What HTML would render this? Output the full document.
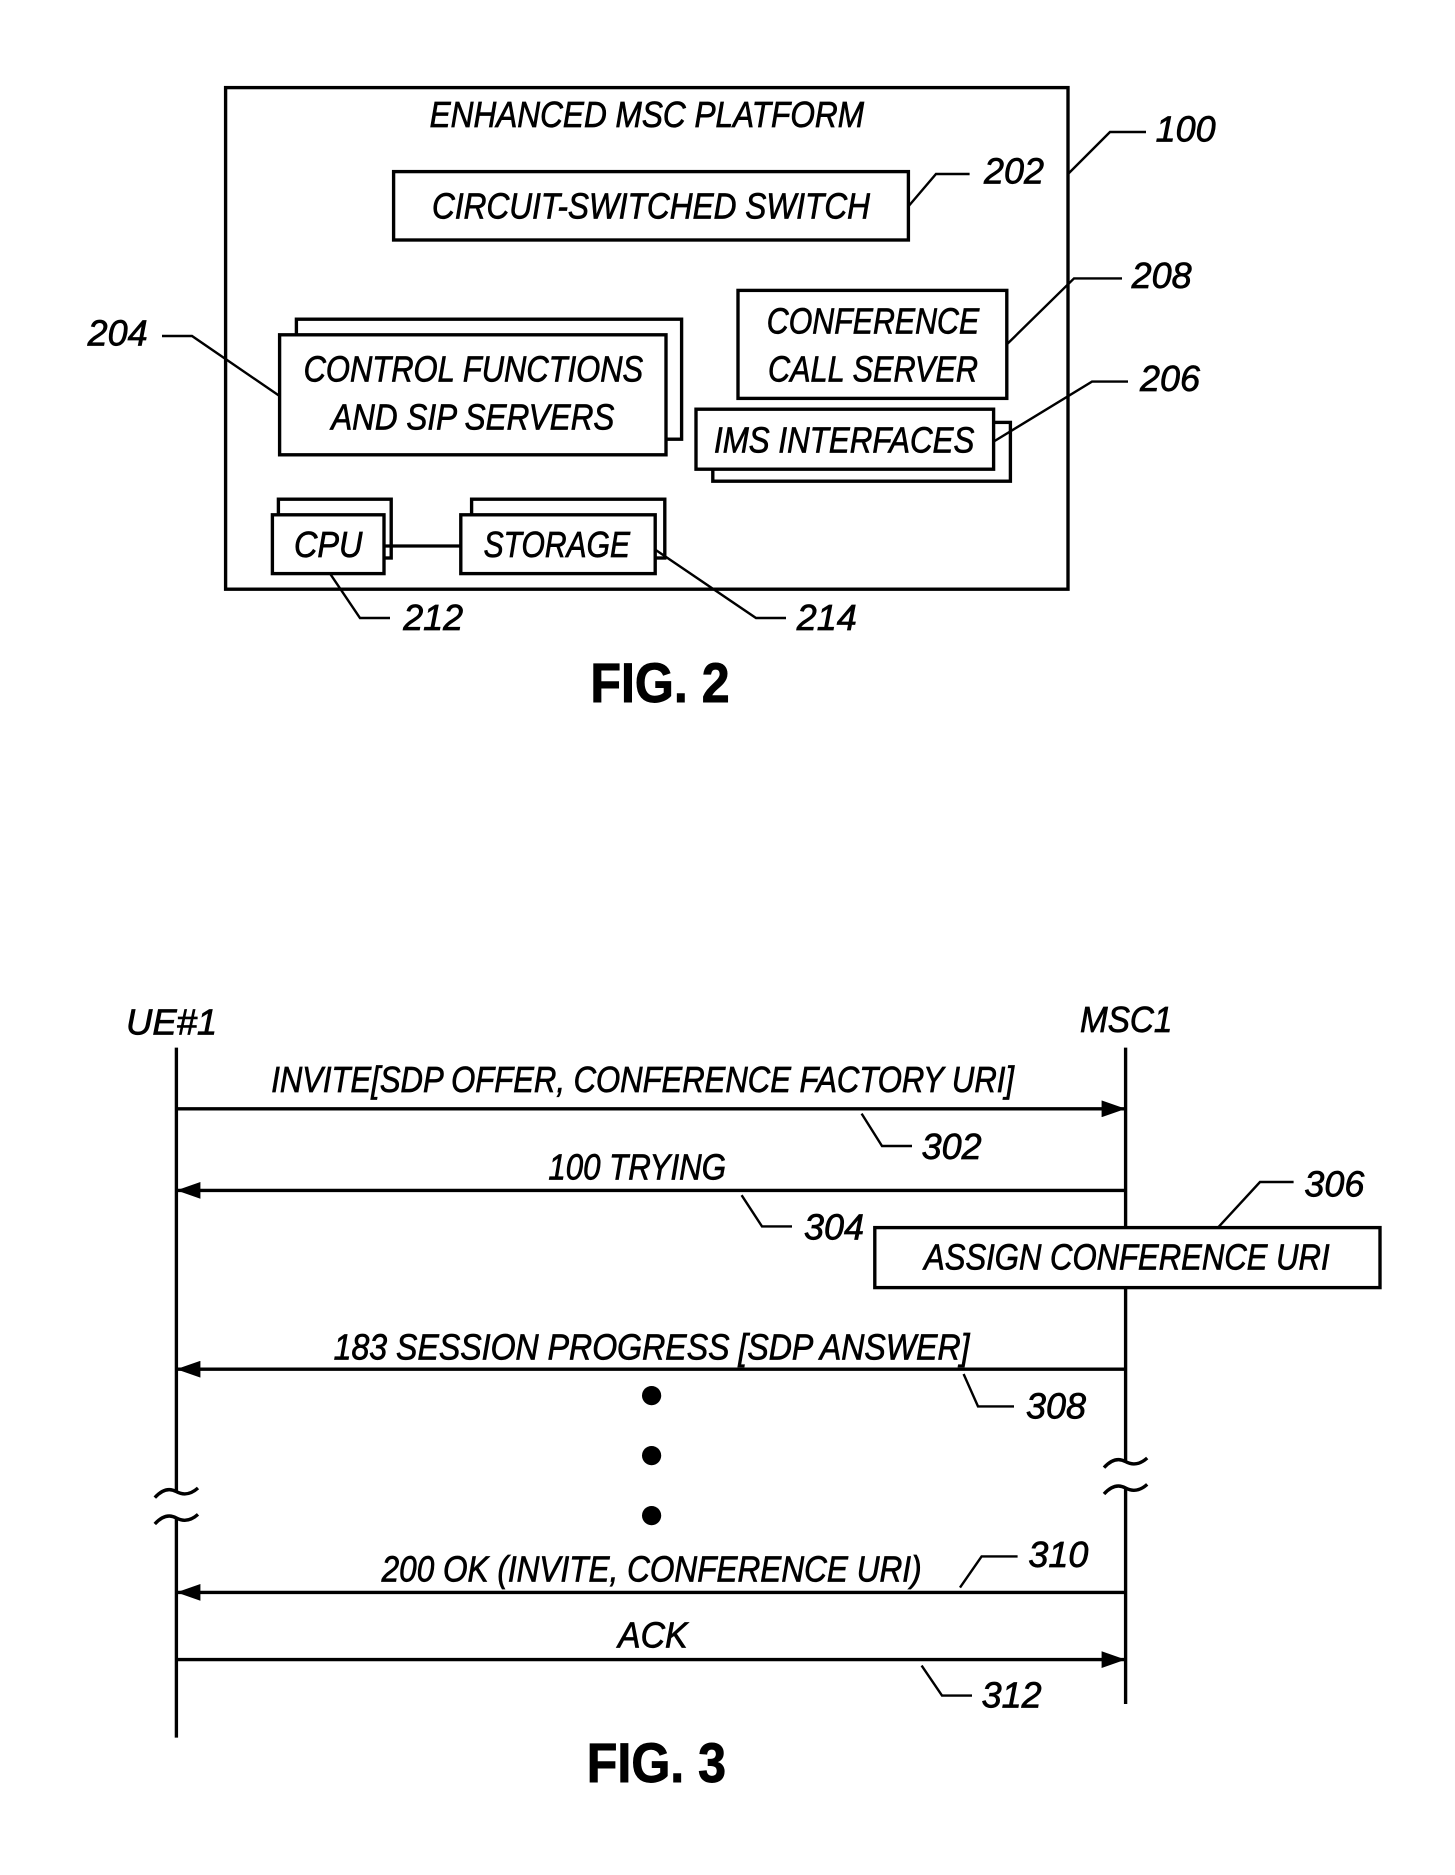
<!DOCTYPE html>
<html><head><meta charset="utf-8"><style>
html,body{margin:0;padding:0;background:#fff;}
svg{display:block;}
text{font-family:"Liberation Sans Narrow","Liberation Sans",sans-serif;font-style:italic;fill:#000;stroke:#000;stroke-width:0.6;}
.b{font-style:normal;font-weight:bold;font-family:"Liberation Sans",sans-serif;stroke-width:0.8;}
</style></head><body>
<svg width="1455" height="1875" viewBox="0 0 1212.5 1562.5" xmlns="http://www.w3.org/2000/svg">
<defs><marker id="ah" markerWidth="20" markerHeight="14" refX="20" refY="7" orient="auto" markerUnits="userSpaceOnUse"><path d="M0,0 L20,7 L0,14 Z" fill="#000"/></marker></defs>
<g fill="#fff" stroke="#000" stroke-width="2.8">
<rect x="188" y="73" width="702" height="418"/>
<rect x="328" y="143" width="429" height="57"/>
<rect x="247" y="266" width="321" height="100"/>
<rect x="233" y="279" width="322" height="100"/>
<rect x="615" y="242" width="224" height="90"/>
<rect x="594" y="352" width="248" height="49"/>
<rect x="580" y="341" width="248" height="50"/>
<rect x="232" y="416" width="94" height="49"/>
<rect x="227" y="429" width="93" height="49"/>
<rect x="393" y="416" width="161" height="49"/>
<rect x="384" y="429" width="162" height="49"/>
</g>
<g fill="none" stroke="#000" stroke-width="2">
<line x1="320" y1="455" x2="384" y2="455" stroke-width="2.8"/>
<polyline points="757,172 780,145 808,145"/>
<polyline points="890,145 925,110 955,110"/>
<polyline points="135,280 160,280 233,330"/>
<polyline points="839,287 895,232 935,232"/>
<polyline points="828,368 910,318 940,318"/>
<polyline points="275,478 300,515 325,515"/>
<polyline points="546,458 630,515 655,515"/>
<polyline points="718,928 735,955 760,955"/>
<polyline points="618,996 635,1022 660,1022"/>
<polyline points="1015,1023 1050,985 1078,985"/>
<polyline points="803,1145 815,1172 845,1172"/>
<polyline points="800,1323 818,1297 848,1297"/>
<polyline points="768,1388 785,1413 810,1413"/>
</g>
<g fill="none" stroke="#000" stroke-width="2.8">
<line x1="147" y1="873" x2="147" y2="1243"/>
<line x1="147" y1="1265" x2="147" y2="1448"/>
<line x1="938" y1="873" x2="938" y2="1218"/>
<line x1="938" y1="1240" x2="938" y2="1420"/>
<path d="M129,1248 Q138,1238 147,1243 Q156,1248 165,1240"/>
<path d="M129,1270 Q138,1260 147,1265 Q156,1270 165,1262"/>
<path d="M920,1223 Q929,1213 938,1218 Q947,1223 956,1215"/>
<path d="M920,1245 Q929,1235 938,1240 Q947,1245 956,1237"/>
<line x1="147" y1="924" x2="938" y2="924" marker-end="url(#ah)"/>
<line x1="938" y1="992" x2="147" y2="992" marker-end="url(#ah)"/>
<line x1="938" y1="1141" x2="147" y2="1141" marker-end="url(#ah)"/>
<line x1="938" y1="1327" x2="147" y2="1327" marker-end="url(#ah)"/>
<line x1="147" y1="1383" x2="938" y2="1383" marker-end="url(#ah)"/>
</g>
<rect x="729" y="1023" width="421" height="50" fill="#fff" stroke="#000" stroke-width="2.8"/>
<circle cx="543" cy="1163" r="8"/><circle cx="543" cy="1213" r="8"/><circle cx="543" cy="1263" r="8"/>
<g font-size="30">
<text x="358" y="106" textLength="362" lengthAdjust="spacingAndGlyphs">ENHANCED MSC PLATFORM</text>
<text x="360" y="182" textLength="365" lengthAdjust="spacingAndGlyphs">CIRCUIT-SWITCHED SWITCH</text>
<text x="820" y="153" textLength="50" lengthAdjust="spacingAndGlyphs">202</text>
<text x="963" y="118" textLength="50" lengthAdjust="spacingAndGlyphs">100</text>
<text x="253" y="318" textLength="283" lengthAdjust="spacingAndGlyphs">CONTROL FUNCTIONS</text>
<text x="276" y="358" textLength="236" lengthAdjust="spacingAndGlyphs">AND SIP SERVERS</text>
<text x="73" y="288" textLength="50" lengthAdjust="spacingAndGlyphs">204</text>
<text x="639" y="278" textLength="177" lengthAdjust="spacingAndGlyphs">CONFERENCE</text>
<text x="640" y="318" textLength="175" lengthAdjust="spacingAndGlyphs">CALL SERVER</text>
<text x="943" y="240" textLength="50" lengthAdjust="spacingAndGlyphs">208</text>
<text x="595" y="377" textLength="217" lengthAdjust="spacingAndGlyphs">IMS INTERFACES</text>
<text x="950" y="326" textLength="50" lengthAdjust="spacingAndGlyphs">206</text>
<text x="245" y="464" textLength="57" lengthAdjust="spacingAndGlyphs">CPU</text>
<text x="403" y="464" textLength="122" lengthAdjust="spacingAndGlyphs">STORAGE</text>
<text x="336" y="525" textLength="50" lengthAdjust="spacingAndGlyphs">212</text>
<text x="664" y="525" textLength="50" lengthAdjust="spacingAndGlyphs">214</text>
<text x="105" y="862" textLength="76" lengthAdjust="spacingAndGlyphs">UE#1</text>
<text x="900" y="860" textLength="77" lengthAdjust="spacingAndGlyphs">MSC1</text>
<text x="226" y="910" textLength="619" lengthAdjust="spacingAndGlyphs">INVITE[SDP OFFER, CONFERENCE FACTORY URI]</text>
<text x="768" y="966" textLength="50" lengthAdjust="spacingAndGlyphs">302</text>
<text x="457" y="983" textLength="148" lengthAdjust="spacingAndGlyphs">100 TRYING</text>
<text x="670" y="1033" textLength="50" lengthAdjust="spacingAndGlyphs">304</text>
<text x="770" y="1058" textLength="338" lengthAdjust="spacingAndGlyphs">ASSIGN CONFERENCE URI</text>
<text x="1087" y="997" textLength="50" lengthAdjust="spacingAndGlyphs">306</text>
<text x="278" y="1133" textLength="530" lengthAdjust="spacingAndGlyphs">183 SESSION PROGRESS [SDP ANSWER]</text>
<text x="855" y="1182" textLength="50" lengthAdjust="spacingAndGlyphs">308</text>
<text x="318" y="1318" textLength="450" lengthAdjust="spacingAndGlyphs">200 OK (INVITE, CONFERENCE URI)</text>
<text x="857" y="1306" textLength="50" lengthAdjust="spacingAndGlyphs">310</text>
<text x="515" y="1373" textLength="58" lengthAdjust="spacingAndGlyphs">ACK</text>
<text x="818" y="1423" textLength="50" lengthAdjust="spacingAndGlyphs">312</text>
</g>
<text class="b" x="492" y="585" font-size="46" textLength="116" lengthAdjust="spacingAndGlyphs">FIG. 2</text>
<text class="b" x="489" y="1485" font-size="46" textLength="116" lengthAdjust="spacingAndGlyphs">FIG. 3</text>
</svg>
</body></html>
